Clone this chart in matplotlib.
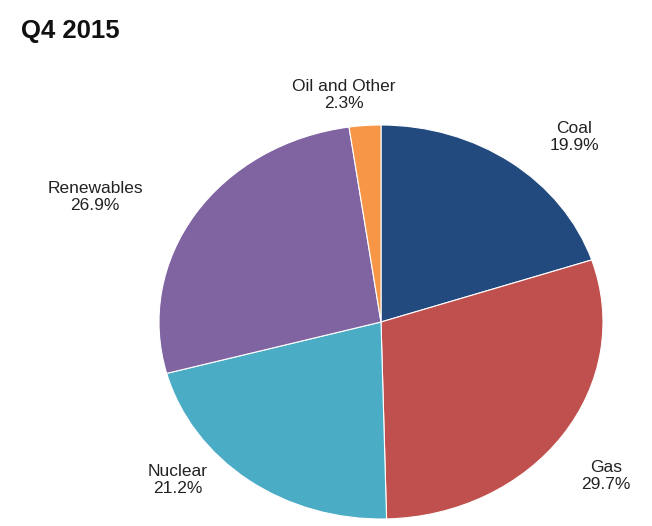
import matplotlib
matplotlib.use("Agg")
import matplotlib.pyplot as plt

plt.rcParams['font.family'] = ['Liberation Sans', 'DejaVu Sans']

categories = ["Coal", "Gas", "Nuclear", "Renewables", "Oil and Other"]
values = [19.9, 29.7, 21.2, 26.9, 2.3]
colors = ["#234a7e", "#c0504d", "#4bacc6", "#8064a2", "#f79646"]

W, H = 652, 526
fig = plt.figure(figsize=(W / 100, H / 100), dpi=100)

cx, cy, rx, ry = 381, 322, 222, 197
ax = fig.add_axes([(cx - rx) / W, (H - cy - ry) / H, 2 * rx / W, 2 * ry / H])
ax.pie(values, colors=colors, startangle=90, counterclock=False,
       wedgeprops=dict(edgecolor="white", linewidth=0.8), radius=1)
ax.set_xlim(-1, 1)
ax.set_ylim(-1, 1)
ax.set_aspect('auto')
ax.axis('off')

label_pos = {"Coal": (574, 137), "Gas": (606, 476), "Nuclear": (178, 480),
             "Renewables": (95, 197), "Oil and Other": (344, 95)}
for cat, v in zip(categories, values):
    px, py = label_pos[cat]
    fig.text(px / W, 1 - py / H, f"{cat}\n{v:.1f}%", ha="center", va="center",
             fontsize=12.5, color="#222222", linespacing=1.15)

fig.text(21 / W, 1 - 31 / H, "Q4 2015", ha="left", va="center",
         fontsize=18.5, fontweight="bold", color="#111111")

fig.savefig("out.png", dpi=100, facecolor="white")
